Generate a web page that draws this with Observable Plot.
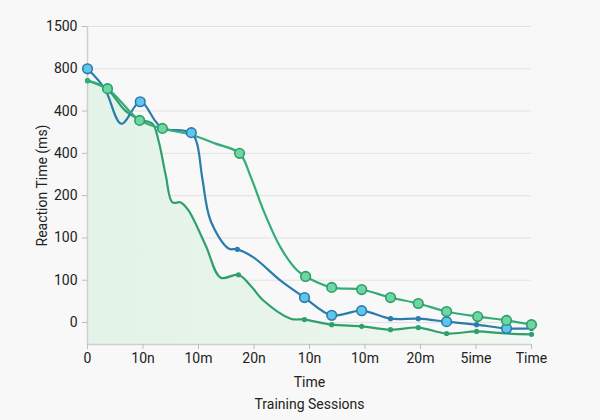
<!DOCTYPE html>
<html>
<head>
<meta charset="utf-8">
<script src="https://cdn.jsdelivr.net/npm/d3@7"></script>
<script src="https://cdn.jsdelivr.net/npm/@observablehq/plot@0.6"></script>
<style>
  html, body { margin: 0; padding: 0; background: #f8f8f8; }
  #chart { width: 600px; height: 420px; }
  #chart svg { font-family: Roboto, "Noto Sans", sans-serif !important; }
  #chart svg text { font-size: 14px !important; }
</style>
</head>
<body>
<div id="chart"></div>
<script>
// Tick labels (as printed on the reference)
const xLabels = ["0", "10n", "10m", "20n", "10n", "10m", "20m", "5ime", "Time"];
const yLabels = ["0", "100", "100", "200", "400", "400", "800", "1500"];

// Series values, in axis-tick units (position index on the printed axes)
// marker: 2 = large circle, 1 = small dot, 0 = none
const blueX = [0, 0.31, 0.61, 0.95, 1.23, 1.35, 1.87, 1.97, 2.07, 2.22, 2.54, 2.70, 2.99, 3.48, 3.91, 4.40, 4.94, 5.46, 5.96, 6.47, 7.01, 7.55, 8.0];
const blueY = [6.00, 5.53, 4.70, 5.22, 4.75, 4.59, 4.49, 4.25, 3.40, 2.40, 1.75, 1.73, 1.54, 0.99, 0.59, 0.17, 0.28, 0.09, 0.09, 0.02, -0.05, -0.14, -0.14];
const blueMark = [2, 0, 0, 2, 0, 0, 2, 0, 0, 0, 0, 1, 0, 0, 2, 2, 2, 1, 1, 2, 1, 2, 1];

const greenX = [0, 0.36, 0.94, 1.35, 1.87, 2.31, 2.74, 2.94, 3.17, 3.48, 3.78, 3.93, 4.40, 4.94, 5.46, 5.96, 6.47, 7.03, 7.55, 8.0];
const greenY = [5.72, 5.53, 4.78, 4.59, 4.44, 4.23, 4.00, 3.45, 2.65, 1.77, 1.23, 1.09, 0.83, 0.78, 0.59, 0.45, 0.26, 0.14, 0.05, -0.05];
const greenMark = [1, 2, 2, 2, 0, 0, 2, 0, 0, 0, 0, 2, 2, 2, 2, 2, 2, 2, 2, 2];

const lowX = [0, 0.36, 0.68, 0.94, 1.17, 1.28, 1.41, 1.53, 1.68, 1.82, 2.13, 2.40, 2.72, 2.94, 3.17, 3.66, 3.91, 4.40, 4.94, 5.46, 5.96, 6.47, 7.01, 7.55, 8.0];
const lowY = [5.72, 5.51, 5.01, 4.80, 4.70, 4.30, 3.48, 2.84, 2.84, 2.65, 1.82, 1.06, 1.13, 0.87, 0.52, 0.09, 0.07, -0.05, -0.09, -0.17, -0.12, -0.26, -0.21, -0.26, -0.28];
const lowMark = [1, 0, 0, 0, 0, 0, 0, 0, 0, 0, 0, 0, 1, 0, 0, 0, 1, 1, 1, 1, 1, 1, 1, 0, 1];

const yMin = -0.52, yMax = 7;

const toRows = (xs, ys, ms) => xs.map((x, i) => ({x, y: ys[i], m: ms[i]}));
const blue = toRows(blueX, blueY, blueMark);
const green = toRows(greenX, greenY, greenMark);
const low = toRows(lowX, lowY, lowMark);

const blueLine = "#2a7cab", blueFill = "#5ec6ec";
const greenLine = "#33ad77", greenFill = "#6ed6a2", greenStroke = "#2e9d69";
const lowLine = "#2fa06c";
const curve = "catmull-rom";

const plot = Plot.plot({
  width: 600,
  height: 420,
  marginTop: 26,
  marginBottom: 76,
  marginLeft: 87,
  marginRight: 69,
  style: {background: "#f8f8f8", color: "#222", fontFamily: "Roboto, 'Noto Sans', sans-serif"},
  x: {domain: [0, 8]},
  y: {domain: [yMin, yMax]},
  marks: [
    Plot.gridY(d3.range(0, 8), {stroke: "#e2e2e2", strokeOpacity: 1, strokeWidth: 1}),
    Plot.areaY(low, {x: "x", y1: yMin, y2: "y", curve, fill: "url(#lowGrad)"}),
    Plot.ruleY([yMin], {stroke: "#cfcfcf", strokeWidth: 1.5}),
    Plot.ruleX([0], {stroke: "#cfcfcf", strokeWidth: 1.5}),
    Plot.axisX(d3.range(0, 9), {tickFormat: i => xLabels[i], tickSize: 5, tickPadding: 4, stroke: "#bdbdbd", fill: "#222",
      label: "Time", labelAnchor: "center", labelArrow: "none", labelOffset: 42}),
    Plot.axisY(d3.range(0, 8), {tickFormat: i => yLabels[i], tickSize: 5, tickPadding: 5, stroke: "#bdbdbd", fill: "#222",
      label: "Reaction Time (ms)", labelAnchor: "center", labelArrow: "none", labelOffset: 50}),
    Plot.text(["Training Sessions"], {frameAnchor: "bottom", dy: 64, fill: "#222"}),
    Plot.line(low, {x: "x", y: "y", curve, stroke: lowLine, strokeWidth: 2.2}),
    Plot.line(blue, {x: "x", y: "y", curve, stroke: blueLine, strokeWidth: 2.2}),
    Plot.line(green, {x: "x", y: "y", curve, stroke: greenLine, strokeWidth: 2.2}),
    Plot.dot(low.filter(d => d.m === 1), {x: "x", y: "y", r: 2.6, fill: lowLine, stroke: "none"}),
    Plot.dot(blue.filter(d => d.m === 1), {x: "x", y: "y", r: 2.6, fill: blueLine, stroke: "none"}),
    Plot.dot(green.filter(d => d.m === 1), {x: "x", y: "y", r: 2.6, fill: greenLine, stroke: "none"}),
    Plot.dot(blue.filter(d => d.m === 2), {x: "x", y: "y", r: 4.8, fill: blueFill, stroke: blueLine, strokeWidth: 1.6}),
    Plot.dot(green.filter(d => d.m === 2), {x: "x", y: "y", r: 4.8, fill: greenFill, stroke: greenStroke, strokeWidth: 1.6})
  ]
});

const svg = d3.select(plot);
const defs = svg.insert("defs", ":first-child");
const grad = defs.append("linearGradient").attr("id", "lowGrad")
  .attr("x1", "0").attr("y1", "0").attr("x2", "1").attr("y2", "0");
grad.append("stop").attr("offset", "0%").attr("stop-color", "#e3f3e7");
grad.append("stop").attr("offset", "60%").attr("stop-color", "#eaf5ec");
grad.append("stop").attr("offset", "100%").attr("stop-color", "#f2f8f3");

document.getElementById("chart").appendChild(plot);
</script>
</body>
</html>
